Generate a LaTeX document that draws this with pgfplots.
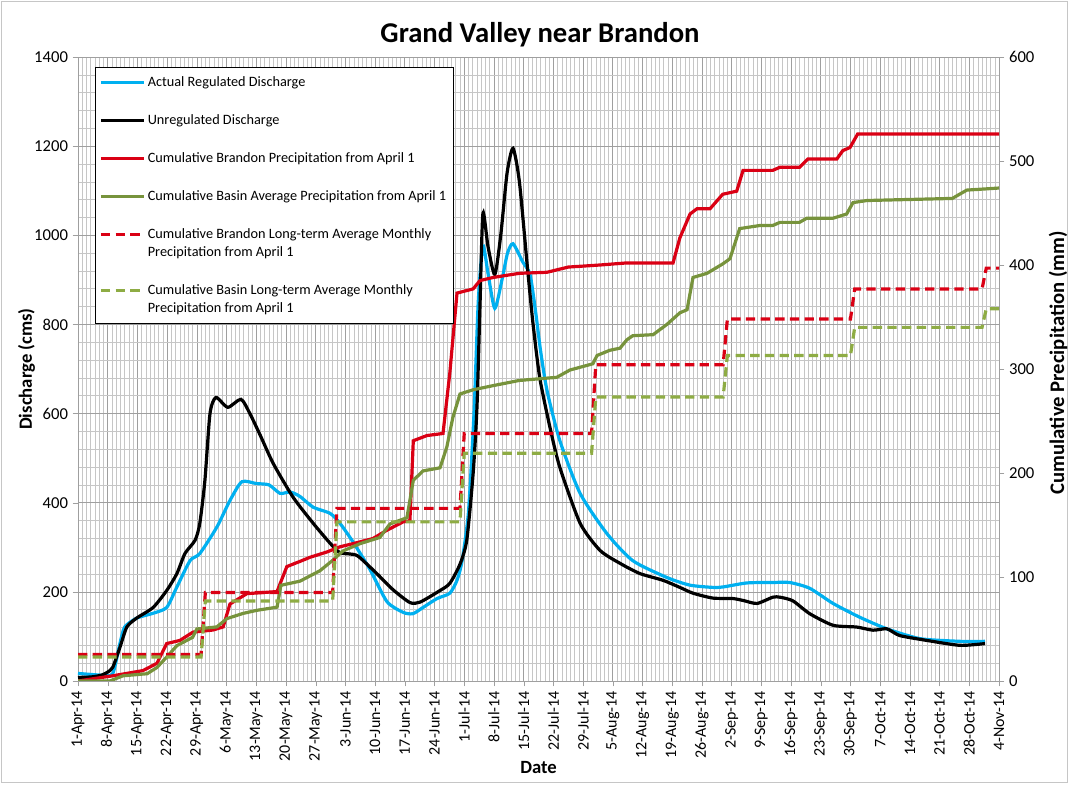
\documentclass[border=0pt]{standalone}
\usepackage{pgfplots}
\pgfplotsset{compat=1.18}
\usepackage{fontspec}
\setmainfont{Carlito}
\definecolor{regblue}{RGB}{0,176,240}
\definecolor{precred}{RGB}{218,0,20}
\definecolor{basgreen}{RGB}{119,147,60}
\definecolor{ltgreen}{RGB}{142,172,68}

% discharge (cms), x = days after 1 April 2014
\pgfplotstableread{
d q
0 17
5.9 13
8.2 17
9.9 85
11 121
13.8 141
17.7 152
20.9 165
23.3 211
26.4 270
28.7 286
32.7 345
35.8 405
38.6 447
42 443
45 440
47.6 421
50 424
52.3 414
55.4 390
59.4 376
61.7 354
64.8 312
68.8 250
72.8 178
76.6 154
78.9 151
81.3 165
84.6 185
87.6 197
89.3 226
90.5 270
92 380
93.3 600
94.3 850
95.4 976
96.6 915
98.2 836
100 905
101.2 960
102.5 981
104.8 940
106.5 912
107.8 830
109 740
110.5 652
113.5 540
118.3 421
124.6 331
130.7 270
138.8 232
144.2 215
149.6 210
152 211
157.6 220
163.7 221
167.7 221
172.4 208
177.9 174
184.2 143
190.6 117
198.4 95
207.8 89
213.7 89
}\regulated

\pgfplotstableread{
d q
0 8
3 9
5.5 13
7 20
8.2 31
9.9 76
11.5 121
13.8 141
17.7 165
20.9 203
23.3 241
25.2 286
27.6 316
28.7 354
29.9 450
31.1 600
32.5 636
35.3 614
38.4 632
40.5 600
43 550
46 488
50.7 412
55.4 354
59.4 309
61.7 288
64 285
66 280
70.4 241
74.2 205
78.2 176
80.6 177
85.3 203
87.6 219
90 262
91.6 316
93.1 466
94 614
94.7 838
95.4 1049
96.6 975
98.2 912
99.6 1000
101.1 1140
102.5 1195
104 1120
105.8 937
107.2 802
108.8 680
111.2 569
113.5 480
118.3 354
123 293
127.7 264
132.4 241
137.8 226
141.8 210
144.9 197
149.6 186
154.3 185
157 180
160 174
163.7 188
165.4 188
168.4 180
172.4 151
177.9 125
183.5 121
187.3 114
190.6 117
193.6 102
200 91
207.8 80
213.7 84
}\unregulated

% cumulative precipitation (mm)
\pgfplotstableread{
d p
0 0
8.2 5
15.3 10
18.6 17
20.9 36
24 39
27.1 47
31.8 49
34.2 52
35.8 74
39.8 84
46.9 86
49.2 110
52.3 115
54.7 119
58.6 124
61.7 129
65.7 133
69.5 137
72.8 145
76.6 153
78.2 154
79 231
82.2 236
86 238
87.6 296
89.3 373
93.1 377
94.7 385
97.8 388
104 392
110.5 393
115.5 398
123 400
129.3 402
140.2 402
141.8 426
144.2 449
145.8 454
148.9 454
151.9 468
155.2 471
156.7 491
163.7 491
165.4 494
170 494
172 502
178.8 502
180.2 510
181.9 513
183.7 526
217 526
}\brandon

\pgfplotstableread{
d p
0 0
7.5 0
10.6 5
16.3 7
18.6 13
20.9 23
23.3 34
27 42
28 50
32.7 52
35.1 60
38.9 65
42.2 68
46.9 71
47.8 92
52.3 96
57 106
60 116
62.4 125
66.4 132
71.1 138
73.5 151
77.5 157
79 193
81.3 202
85.3 205
86.9 225
88.3 253
90 276
93.1 280
97.8 284
104 289
112.8 292
115.9 299
121.3 305
122.3 313
125.3 318
127.7 320
129.3 328
130.7 332
135.5 333
138.8 343
141.8 354
143.5 357
144.9 388
148.2 392
151.9 401
153.6 406
155.9 435
160.7 438
163.7 438
165.4 441
170 441
171.7 445
177.9 445
181.1 449
182.6 460
185.9 462
206 464
209.4 472
217 474
}\basin

\pgfplotstableread{
d p
0 25.6
29 25.6
30 85
60 85
61 166
90 166
91 238
121 238
122 304
152 304
153 348
182 348
183 377
213 377
214 397
217 397
}\brandonlt

\pgfplotstableread{
d p
0 23
29 23
30 77
60 77
61 153
90 153
91 219
121 219
122 273
152 273
153 313
182 313
183 340
213 340
214 358
217 358
}\basinlt

\pgfplotsset{
  common/.style={
    at={(58.5pt,77.25pt)}, anchor=south west,
    scale only axis, width=690.75pt, height=468pt,
    xmin=0, xmax=217,
    /pgf/number format/assume math mode=true,
    /pgf/number format/1000 sep={},
    tick align=outside, major tick length=4pt,
    axis line style={gray!75},
    major tick style={gray!75},
    tick label style={font=\fontsize{12.5}{14}\selectfont},
    label style={font=\bfseries\fontsize{14}{16}\selectfont},
  },
  twoline/.style={legend image code/.code={\draw[##1] (0pt,6.5pt) -- (32pt,6.5pt);}},
}

\begin{document}
\begin{tikzpicture}[x=1pt,y=1pt]
\path[use as bounding box] (0,0) rectangle (801.75,588);
\draw[gray!45, line width=0.8pt] (1,1) rectangle (800.75,587);
\node[font=\bfseries\fontsize{21.5}{24}\selectfont] at (405,562) {Grand Valley near Brandon};

\begin{axis}[common,
  ymin=0, ymax=1400,
  ytick={0,200,...,1400},
  minor y tick num=4,
  xtick={0,7,...,217},
  minor x tick num=6,
  xtick pos=bottom, ytick pos=left,
  minor tick length=0pt,
  grid=both,
  major grid style={gray!75, line width=0.5pt},
  minor grid style={gray!45, line width=0.4pt},
  xticklabels={1-Apr-14,8-Apr-14,15-Apr-14,22-Apr-14,29-Apr-14,6-May-14,13-May-14,20-May-14,27-May-14,3-Jun-14,10-Jun-14,17-Jun-14,24-Jun-14,1-Jul-14,8-Jul-14,15-Jul-14,22-Jul-14,29-Jul-14,5-Aug-14,12-Aug-14,19-Aug-14,26-Aug-14,2-Sep-14,9-Sep-14,16-Sep-14,23-Sep-14,30-Sep-14,7-Oct-14,14-Oct-14,21-Oct-14,28-Oct-14,4-Nov-14},
  x tick label style={rotate=90, anchor=east, font=\fontsize{12}{14}\selectfont},
  scaled y ticks=false,
  xlabel={Date},
  ylabel={Discharge (cms)},
  xlabel style={at={(axis description cs:0.5,-0.139)}, anchor=center},
  ylabel style={at={(axis description cs:-0.056,0.5)}, anchor=center},
]
\addplot[regblue, line width=2.4pt, smooth, tension=0.4] table[x=d, y=q] {\regulated};
\addplot[black, line width=2.4pt, smooth, tension=0.4] table[x=d, y=q] {\unregulated};
\end{axis}

\begin{axis}[common,
  ymin=0, ymax=600,
  ytick={0,100,...,600},
  axis y line*=right,
  axis x line=none,
  ylabel={Cumulative Precipitation (mm)},
  ylabel style={at={(axis description cs:1.064,0.51)}, anchor=center, rotate=0,
    font=\bfseries\fontsize{15.5}{17}\selectfont},
  legend cell align=left,
  legend image code/.code={\draw[#1] (0pt,0pt) -- (32pt,0pt);},
  legend style={at={(0.0185,0.984)}, anchor=north west, draw=black, fill=white,
    font=\fontsize{10.7}{13.5}\selectfont, align=left, row sep=15.5pt,
    inner xsep=3pt, inner ysep=5pt},
]
\addlegendimage{regblue, line width=2.4pt}
\addlegendentry{Actual Regulated Discharge}
\addlegendimage{black, line width=2.4pt}
\addlegendentry{Unregulated Discharge}
\addplot[precred, line width=2.4pt] table[x=d, y=p] {\brandon};
\addlegendentry{Cumulative Brandon Precipitation from April 1}
\addplot[basgreen, line width=2.4pt] table[x=d, y=p] {\basin};
\addlegendentry{Cumulative Basin Average Precipitation from April 1}
\addplot[precred, line width=2.4pt, dash pattern=on 7pt off 4pt, twoline] table[x=d, y=p] {\brandonlt};
\addlegendentry{Cumulative Brandon Long-term Average Monthly\\Precipitation from April 1}
\addplot[ltgreen, line width=2.4pt, dash pattern=on 7pt off 4pt, twoline] table[x=d, y=p] {\basinlt};
\addlegendentry{Cumulative Basin Long-term Average Monthly\\Precipitation from April 1}
\end{axis}
\end{tikzpicture}
\end{document}
